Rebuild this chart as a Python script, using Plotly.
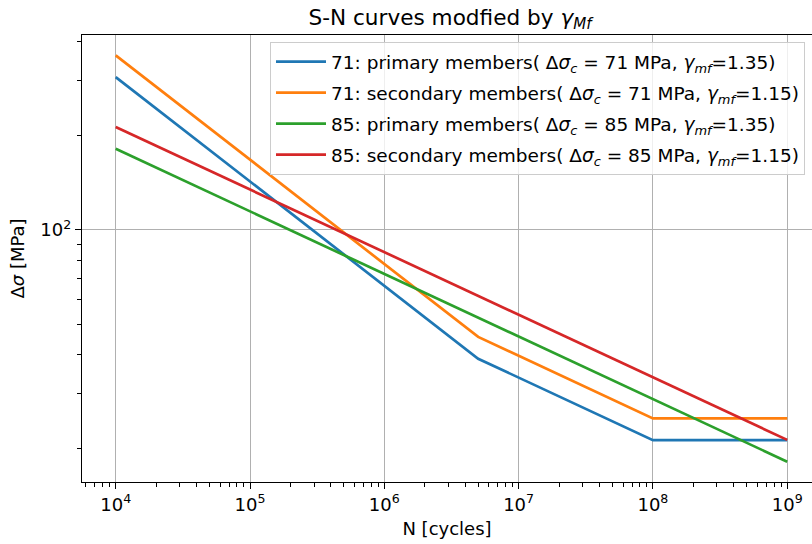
import plotly.graph_objects as go

# Number of cycles (break points of the S-N curves)
cycles = [1e4, 5e6, 1e8, 1e9]

# Stress ranges [MPa]
s71_primary = [307.6, 38.75, 21.29, 21.29]
s71_secondary = [361.1, 45.49, 24.99, 24.99]
s85_primary = [181.6, 52.42, 28.79, 18.17]
s85_secondary = [213.2, 61.54, 33.80, 21.33]

series_names = [
    "71: primary members( Δ<i>σ</i><sub><i>c</i></sub> = 71 MPa, <i>γ</i><sub><i>mf</i></sub>=1.35)",
    "71: secondary members( Δ<i>σ</i><sub><i>c</i></sub> = 71 MPa, <i>γ</i><sub><i>mf</i></sub>=1.15)",
    "85: primary members( Δ<i>σ</i><sub><i>c</i></sub> = 85 MPa, <i>γ</i><sub><i>mf</i></sub>=1.35)",
    "85: secondary members( Δ<i>σ</i><sub><i>c</i></sub> = 85 MPa, <i>γ</i><sub><i>mf</i></sub>=1.15)",
]
series_values = [s71_primary, s71_secondary, s85_primary, s85_secondary]
colors = ["#1f77b4", "#ff7f0e", "#2ca02c", "#d62728"]

x_tickvals = [1e4, 1e5, 1e6, 1e7, 1e8, 1e9]
x_ticktext = ["10<sup>4</sup>", "10<sup>5</sup>", "10<sup>6</sup>", "10<sup>7</sup>",
              "10<sup>8</sup>", "10<sup>9</sup>"]
y_tickvals = [100]
y_ticktext = ["10<sup>2</sup>"]

FONT = "DejaVu Sans"
fig = go.Figure()
for i, (name, vals, c) in enumerate(zip(series_names, series_values, colors)):
    fig.add_trace(go.Scatter(x=cycles, y=vals, mode="lines", name=name,
                             legendgroup=f"g{i}",
                             line=dict(color=c, width=2.7)))

W, H = 812, 544
L, R, T, B = 82, 0, 35, 62
pw = W - L - R
ph = H - T - B

fig.update_layout(
    width=W, height=H,
    margin=dict(l=L, r=R, t=T, b=B, pad=0),
    paper_bgcolor="white", plot_bgcolor="white",
    font=dict(family=FONT, size=18, color="black"),
    title=dict(text="S-N curves modfied by <i>γ</i><sub><i>Mf</i></sub>",
               x=450 / W, xref="container", xanchor="center",
               y=1 - 17 / H, yref="container", yanchor="middle",
               font=dict(size=21.6, family=FONT, color="black")),
    legend=dict(x=(270 - L) / pw, xanchor="left", xref="paper",
                y=(H - B - 42) / ph, yanchor="top", yref="paper",
                bgcolor="rgba(255,255,255,0.8)", bordercolor="#cccccc", borderwidth=1,
                font=dict(size=18.5, family=FONT), tracegroupgap=4, itemwidth=50),
    showlegend=True,
)

fig.update_xaxes(
    type="log", range=[3.749, 3.749 + pw / 134.3],
    tickvals=x_tickvals, ticktext=x_ticktext,
    showgrid=True, gridcolor="#b0b0b0", gridwidth=1.1,
    showline=True, linecolor="black", linewidth=1.4, mirror=True,
    ticks="outside", ticklen=6, tickwidth=1.4, tickcolor="black",
    minor=dict(ticks="outside", ticklen=3.5, tickwidth=1.1, tickcolor="black",
               dtick="D1", showgrid=False),
    zeroline=False,
    title=dict(text="N [cycles]", font=dict(size=18, family=FONT), standoff=8),
    tickfont=dict(size=18, family=FONT),
)
fig.update_yaxes(
    type="log", range=[1.1945, 2.6225],
    tickvals=y_tickvals, ticktext=y_ticktext,
    showgrid=True, gridcolor="#b0b0b0", gridwidth=1.1,
    showline=True, linecolor="black", linewidth=1.4, mirror=False,
    ticks="outside", ticklen=6, tickwidth=1.4, tickcolor="black",
    minor=dict(ticks="outside", ticklen=3.5, tickwidth=1.1, tickcolor="black",
               dtick="D1", showgrid=False),
    zeroline=False,
    title=dict(text="Δ<i>σ</i> [MPa]", font=dict(size=18, family=FONT), standoff=10),
    tickfont=dict(size=18, family=FONT),
)

fig.write_html("out.html")
